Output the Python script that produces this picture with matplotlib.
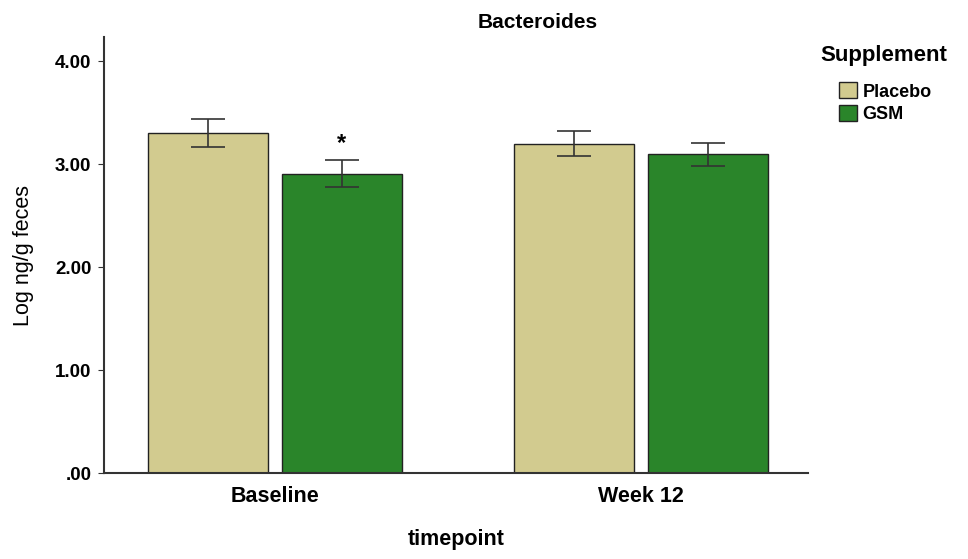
import numpy as np
import matplotlib
matplotlib.use("Agg")
import matplotlib.pyplot as plt

plt.rcParams['font.family'] = ['Liberation Sans', 'DejaVu Sans']

timepoints = ['Baseline', 'Week 12']
groups = ['Placebo', 'GSM']
means = {'Placebo': [3.30, 3.19], 'GSM': [2.90, 3.10]}
err_lo = {'Placebo': [3.165, 3.08], 'GSM': [2.78, 2.98]}
err_hi = {'Placebo': [3.44, 3.32], 'GSM': [3.04, 3.20]}
colors = {'Placebo': '#D2CB8F', 'GSM': '#2A852A'}

fig = plt.figure(figsize=(9.68, 5.59), dpi=100)
ax = fig.add_axes([0.1074, 0.1538, 0.7273, 0.78])

x = np.arange(len(timepoints))
width = 0.33
offsets = {'Placebo': -0.183, 'GSM': 0.183}
for g in groups:
    pos = x + offsets[g]
    m = np.array(means[g])
    lo = m - np.array(err_lo[g])
    hi = np.array(err_hi[g]) - m
    ax.bar(pos, m, width, color=colors[g], edgecolor='#222222', linewidth=1.0,
           label=g, zorder=2)
    ax.errorbar(pos, m, yerr=[lo, hi], fmt='none', ecolor='#333333',
                elinewidth=1.2, capsize=12.5, capthick=1.2, zorder=3)

# significance marker over GSM at baseline
ax.text(x[0] + offsets['GSM'], err_hi['GSM'][0] + 0.05, '*', ha='center',
        va='bottom', fontsize=17, fontweight='bold')

ax.set_xlim(-0.467, 1.456)
ax.set_ylim(0, 4.233)
ax.set_yticks([0, 1, 2, 3, 4])
ax.set_yticklabels(['.00', '1.00', '2.00', '3.00', '4.00'])
ax.set_xticks(x)
ax.set_xticklabels(timepoints)
for lab in ax.get_yticklabels() + ax.get_xticklabels():
    lab.set_fontweight('bold')
ax.tick_params(axis='y', labelsize=13.5, length=4, color='#333333', pad=5)
ax.tick_params(axis='x', labelsize=15.5, length=0, pad=9)

for side in ['top', 'right']:
    ax.spines[side].set_visible(False)
for side in ['left', 'bottom']:
    ax.spines[side].set_color('#333333')
    ax.spines[side].set_linewidth(1.5)

ax.set_ylabel('Log ng/g feces', fontsize=15.5)
ax.yaxis.set_label_coords(-70 / 704, 0.5)
ax.set_xlabel('timepoint', fontsize=15.5, fontweight='bold', labelpad=16)
fig.text(0.555, 0.960, 'Bacteroides', ha='center', va='center',
         fontsize=15, fontweight='bold')

# legend heading drawn on its own so the gap to the entries can be set
fig.text(820 / 968, 1 - 56 / 559, 'Supplement', ha='left', va='center',
         fontsize=16, fontweight='bold')
leg = ax.legend(loc='upper left',
                bbox_to_anchor=(823 / 968, 1 - 66 / 559),
                bbox_transform=fig.transFigure,
                frameon=False, prop={'weight': 'bold', 'size': 13},
                handlelength=1.0, handleheight=1.0, handletextpad=0.3,
                labelspacing=0.25)

fig.savefig('out.png', dpi=100)
